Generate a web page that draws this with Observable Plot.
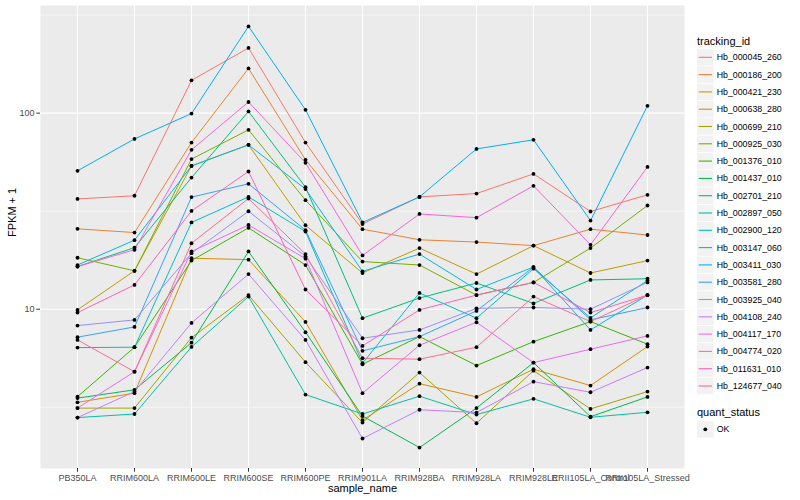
<!DOCTYPE html>
<html>
<head>
<meta charset="utf-8">
<script src="https://cdn.jsdelivr.net/npm/d3@7"></script>
<script src="https://cdn.jsdelivr.net/npm/@observablehq/plot@0.6"></script>
<style>
  body { margin: 0; background: white; font-family: "Liberation Sans", Arial, sans-serif; }
  #wrap { position: relative; width: 800px; height: 500px; }
  #chart { position: absolute; left: 0; top: 0; }
  #legend { position: absolute; left: 690px; top: 0; }
</style>
</head>
<body>
<div id="wrap"><div id="chart"></div><div id="legend"></div></div>
<script>
const samples = ["PB350LA","RRIM600LA","RRIM600LE","RRIM600SE","RRIM600PE","RRIM901LA","RRIM928BA","RRIM928LA","RRIM928LE","RRII105LA_Control","RRII105LA_Stressed"];

const trackingIds = ["Hb_000045_260","Hb_000186_200","Hb_000421_230","Hb_000638_280","Hb_000699_210","Hb_000925_030","Hb_001376_010","Hb_001437_010","Hb_002701_210","Hb_002897_050","Hb_002900_120","Hb_003147_060","Hb_003411_030","Hb_003581_280","Hb_003925_040","Hb_004108_240","Hb_004117_170","Hb_004774_020","Hb_011631_010","Hb_124677_040"];

const colors = ["#F8766D","#EA8331","#D89000","#C09B00","#A3A500","#7CAE00","#39B600","#00BB4E","#00BF7D","#00C1A3","#00BFC4","#00BAE0","#00B0F6","#35A2FF","#9590FF","#C77CFF","#E76BF3","#FA62DB","#FF62BC","#FF6C91"];

// FPKM + 1 per sample (same order as samples)
const hb_000045_260 = [36.5, 37.9, 147, 215, 70.8, 27.2, 37.4, 38.9, 49.0, 31.5, 38.3];
const hb_000186_200 = [25.7, 24.6, 70.8, 169, 57.8, 25.6, 22.6, 22.0, 21.1, 25.6, 23.9];
const hb_000421_230 = [3.35, 3.73, 18.2, 17.9, 8.61, 2.72, 4.17, 3.57, 4.94, 4.08, 6.45];
const hb_000638_280 = [9.92, 15.7, 53.8, 68.9, 26.8, 15.3, 20.5, 15.1, 21.1, 15.3, 17.7];
const hb_000699_210 = [3.13, 3.13, 7.16, 11.8, 5.37, 2.64, 4.75, 2.62, 4.86, 3.10, 3.80];
const hb_000925_030 = [18.3, 15.7, 58.3, 82.2, 36.0, 17.5, 16.8, 11.8, 13.7, 20.5, 33.8];
const hb_001376_010 = [3.58, 6.40, 17.7, 26.0, 16.8, 5.24, 7.25, 5.16, 6.83, 8.65, 6.63];
const hb_001437_010 = [3.52, 3.88, 6.75, 19.7, 7.63, 2.85, 1.97, 3.13, 5.34, 2.83, 3.57];
const hb_002701_210 = [16.5, 20.6, 46.9, 102, 41.9, 9.00, 11.4, 13.6, 10.7, 14.1, 14.3];
const hb_002897_050 = [2.80, 2.92, 6.42, 11.6, 3.67, 2.92, 3.60, 2.90, 3.49, 2.81, 2.98];
const hb_002900_120 = [6.37, 6.40, 27.7, 37.4, 24.9, 5.30, 12.1, 9.00, 16.1, 9.03, 14.0];
const hb_003147_060 = [16.8, 22.5, 53.8, 68.9, 41.0, 15.6, 19.1, 12.6, 16.4, 7.84, 11.8];
const hb_003411_030 = [50.8, 73.9, 99.5, 277, 104, 27.7, 37.4, 65.7, 73.1, 28.3, 109];
const hb_003581_280 = [7.20, 8.12, 37.3, 43.6, 25.3, 6.13, 7.25, 9.80, 16.4, 8.82, 10.2];
const hb_003925_040 = [8.25, 8.82, 19.3, 31.6, 18.6, 7.11, 7.84, 10.1, 10.2, 10.0, 13.7];
const hb_004108_240 = [2.80, 3.80, 8.51, 15.1, 6.97, 2.19, 3.07, 2.97, 4.27, 3.77, 5.04];
const hb_004117_170 = [3.13, 4.80, 19.7, 26.9, 18.1, 3.73, 6.55, 8.58, 5.34, 6.25, 7.31];
const hb_004774_020 = [16.5, 20.1, 65.0, 114, 55.8, 18.8, 30.6, 29.3, 42.6, 21.3, 53.2];
const hb_011631_010 = [9.61, 13.3, 31.7, 50.4, 12.6, 6.50, 9.92, 11.8, 13.7, 9.61, 11.8];
const hb_124677_040 = [6.97, 4.80, 21.7, 36.7, 19.1, 5.62, 5.56, 6.40, 11.6, 8.65, 11.8];

const seriesValues = [hb_000045_260, hb_000186_200, hb_000421_230, hb_000638_280, hb_000699_210,
  hb_000925_030, hb_001376_010, hb_001437_010, hb_002701_210, hb_002897_050, hb_002900_120,
  hb_003147_060, hb_003411_030, hb_003581_280, hb_003925_040, hb_004108_240, hb_004117_170,
  hb_004774_020, hb_011631_010, hb_124677_040];

const yTicks = [10, 100];
const yMinor = [3.1623, 31.623, 316.23];
const quantStatus = ["OK"];

const rows = [];
trackingIds.forEach((id, i) => {
  seriesValues[i].forEach((v, j) => rows.push({id, sample: samples[j], value: v, status: "OK"}));
});

const chart = Plot.plot({
  width: 690,
  height: 500,
  marginLeft: 40,
  marginRight: 6,
  marginTop: 5,
  marginBottom: 32,
  style: {fontFamily: "'Liberation Sans', Arial, sans-serif", background: "white"},
  x: {type: "point", domain: samples, padding: 0.6, label: null},
  y: {type: "log", domain: [1.54, 354], label: null},
  color: {domain: trackingIds, range: colors},
  marks: [
    Plot.frame({fill: "#EBEBEB", stroke: null}),
    Plot.ruleY(yMinor, {stroke: "white", strokeWidth: 0.55}),
    Plot.ruleY(yTicks, {stroke: "white", strokeWidth: 1.1}),
    Plot.ruleX(samples, {stroke: "white", strokeWidth: 1.1}),
    Plot.line(rows, {x: "sample", y: "value", z: "id", stroke: "id", strokeWidth: 1}),
    Plot.dot(rows, {x: "sample", y: "value", r: 1.9, fill: "black", stroke: null}),
    Plot.axisY(yTicks, {tickSize: 3.7, tickPadding: 2.2, fontSize: 9, color: "#4D4D4D", stroke: "#333333", tickFormat: d => String(d), label: null}),
    Plot.axisX(samples, {tickSize: 3.7, tickPadding: 2.2, fontSize: 9, color: "#4D4D4D", stroke: "#333333", label: null}),
    Plot.text(["FPKM + 1"], {frameAnchor: "left", rotate: -90, dx: -28, fontSize: 11, fill: "black"}),
    Plot.text(["sample_name"], {frameAnchor: "bottom", dy: 20, fontSize: 11, fill: "black", lineAnchor: "middle"})
  ]
});
document.getElementById("chart").appendChild(chart);

// Legend
const lg = d3.select("#legend").append("svg").attr("width", 110).attr("height", 500)
  .style("font-family", "'Liberation Sans', Arial, sans-serif");
lg.append("text").attr("x", 7).attr("y", 41).attr("dominant-baseline", "central")
  .attr("font-size", 11).text("tracking_id");
const rowH = 17.3, row0 = 57.3;
trackingIds.forEach((id, i) => {
  const cy = row0 + i * rowH;
  lg.append("rect").attr("x", 7).attr("y", cy - 8.2).attr("width", 16.6).attr("height", 16.4).attr("fill", "#F2F2F2");
  lg.append("line").attr("x1", 8.7).attr("x2", 22).attr("y1", cy).attr("y2", cy)
    .attr("stroke", colors[i]).attr("stroke-width", 1.1);
  lg.append("text").attr("x", 26.7).attr("y", cy).attr("dominant-baseline", "central")
    .attr("font-size", 8.8).text(id);
});
lg.append("text").attr("x", 7).attr("y", 412.3).attr("dominant-baseline", "central")
  .attr("font-size", 11).text("quant_status");
quantStatus.forEach((s, i) => {
  const cy = 429.3 + i * rowH;
  lg.append("rect").attr("x", 7).attr("y", cy - 8.2).attr("width", 16.6).attr("height", 16.4).attr("fill", "#F2F2F2");
  lg.append("circle").attr("cx", 15.3).attr("cy", cy).attr("r", 1.9).attr("fill", "black");
  lg.append("text").attr("x", 26.7).attr("y", cy).attr("dominant-baseline", "central")
    .attr("font-size", 8.8).text(s);
});
</script>
</body>
</html>
